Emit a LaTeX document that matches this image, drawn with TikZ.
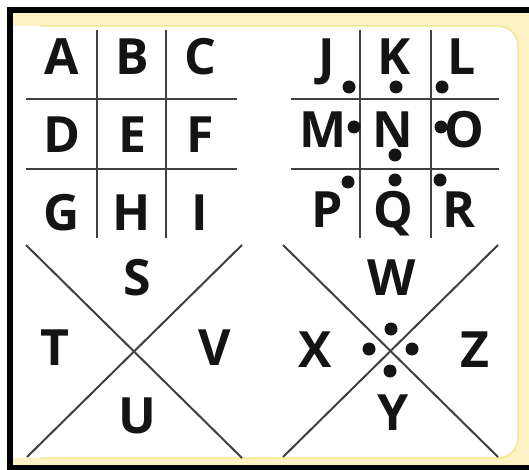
\documentclass[tikz,border=0pt]{standalone}
\usepackage{fontspec}
\setmainfont{Open Sans}
\usetikzlibrary{positioning}
\definecolor{ink}      {HTML}{141414}
\definecolor{rulegray} {HTML}{404040}
\definecolor{cream}    {HTML}{FDF2C6}
\definecolor{creamline}{HTML}{F5E690}
\tikzset{
  % --- letters and pips
  glyph/.style    = {anchor=base, inner sep=0pt, text=ink,
                     font=\fontsize{50}{50}\selectfont\bfseries},
  pip/.style      = {circle, fill=ink, inner sep=0pt, minimum size=13pt},
  % --- lines
  gridline/.style = {draw=rulegray, line width=2pt},
}
\begin{document}
\begin{tikzpicture}[x=1pt,y=-1pt]
  \useasboundingbox (0,0) rectangle (529,470);
  % frame
  \fill[white] (0,0) rectangle (529,470);
  \fill[black] (7,7) rectangle (529,470);
  \fill[cream] (13,13) rectangle (529,465);
  \fill[white] (13,26) rectangle (480,458);
  \fill[white, rounded corners=20pt] (13,26) rectangle (518,458);
  \draw[creamline, line width=1.5pt, rounded corners=20pt]
    (40,26) -- (518,26) -- (518,458) -- (40,458);

  % --- top left grid
  \draw[gridline] (97,30) -- (97,238);
  \draw[gridline] (166,30) -- (166,238);
  \draw[gridline] (26,99) -- (237,99);
  \draw[gridline] (26,169) -- (237,169);
  \node[glyph] (A) at (62,75)  {A};
  \node[glyph] (B) at (132,75) {B};
  \node[glyph] (C) at (200,75) {C};
  \node[glyph] (D) at (62,153)  {D};
  \node[glyph] (E) at (132,153) {E};
  \node[glyph] (F) at (200,153) {F};
  \node[glyph] (G) at (62,230)  {G};
  \node[glyph] (H) at (132,230) {H};
  \node[glyph] (I) at (200,230) {I};

  % --- top right grid with pips
  \draw[gridline] (360,30) -- (360,238);
  \draw[gridline] (431,30) -- (431,238);
  \draw[gridline] (291,99) -- (499,99);
  \draw[gridline] (291,169) -- (499,169);
  \node[glyph] (J) at (327,75)  {J};
  \node[glyph] (K) at (394,75)  {K};
  \node[glyph] (L) at (462,75)  {L};
  \node[glyph] (M) at (323,148) {M};
  \node[glyph] (N) at (393,148) {N};
  \node[glyph] (O) at (464,148) {O};
  \node[glyph] (P) at (327,227) {P};
  \node[glyph] (Q) at (393,227) {Q};
  \node[glyph] (R) at (459,227) {R};
  \node[pip] (pJ) at (349,87)  {};
  \node[pip] (pK) at (396,87)  {};
  \node[pip] (pL) at (442,87)  {};
  \node[pip] (pM) at (354,127) {};
  \node[pip] (pN) at (395,155) {};
  \node[pip] (pO) at (441,127) {};
  \node[pip] (pP) at (348,182) {};
  \node[pip] (pQ) at (395,180) {};
  \node[pip] (pR) at (440,180) {};

  % --- bottom left cross
  \draw[gridline] (26,245) -- (242,458);
  \draw[gridline] (242,245) -- (27,457);
  \node[glyph] (S) at (137,295) {S};
  \node[glyph] (T) at (55,365)  {T};
  \node[glyph] (V) at (215,365) {V};
  \node[glyph] (U) at (137,433) {U};

  % --- bottom right cross with pips
  \draw[gridline] (283,245) -- (498,457);
  \draw[gridline] (498,245) -- (283,457);
  \node[glyph] (W) at (392,295) {W};
  \node[glyph] (X) at (315,367) {X};
  \node[glyph] (Z) at (475,367) {Z};
  \node[glyph] (Y) at (393,430) {Y};
  \node[pip] (pW) at (391,329) {};
  \node[pip] (pX) at (369,349) {};
  \node[pip] (pZ) at (412,349) {};
  \node[pip] (pY) at (390,371) {};
\end{tikzpicture}
\end{document}
